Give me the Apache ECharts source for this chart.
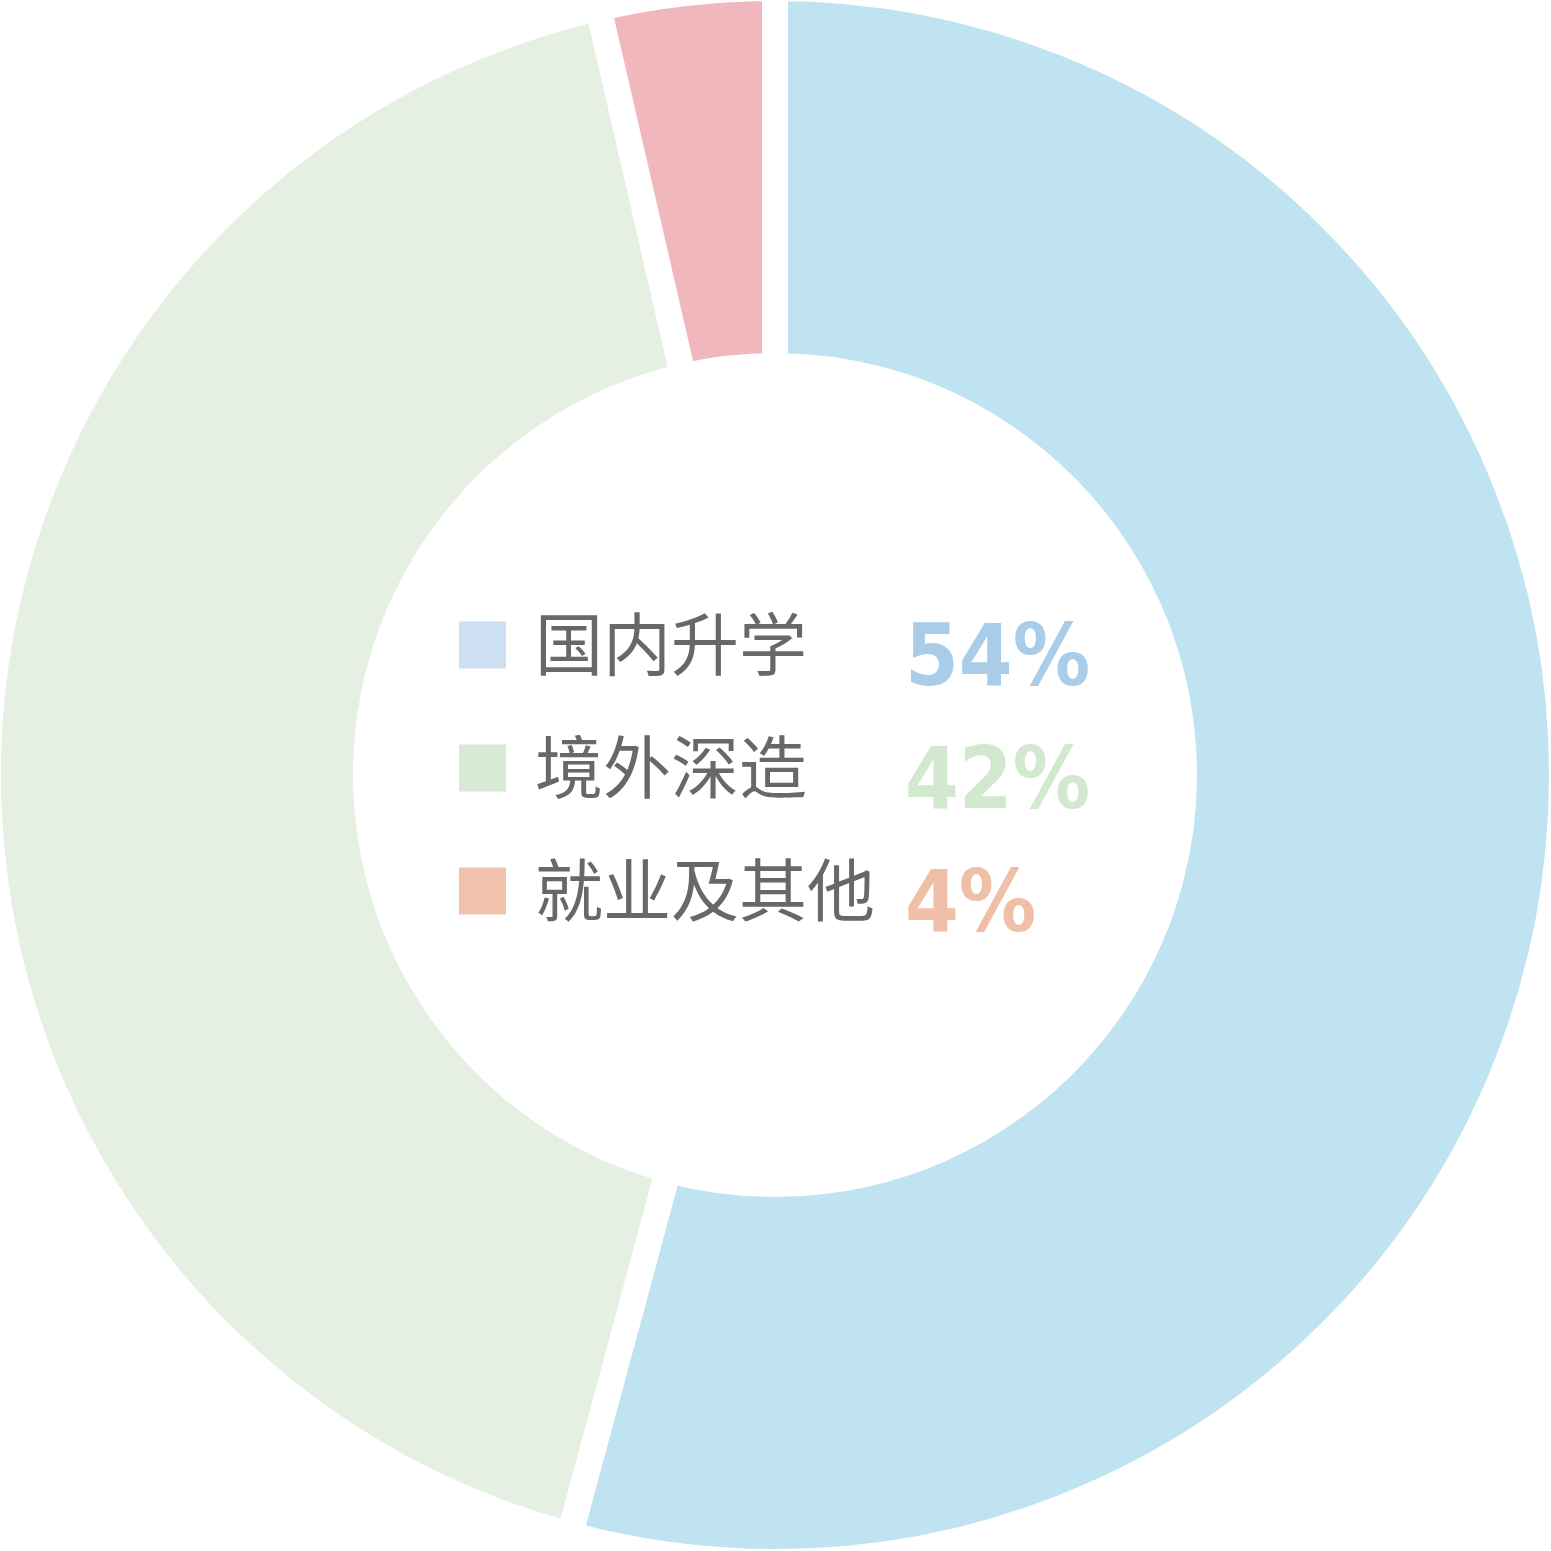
<!DOCTYPE html>
<html><head><meta charset="utf-8">
<style>html,body{margin:0;padding:0;background:#fff}#c{width:1551px;height:1551px}</style>
<script src="https://cdn.jsdelivr.net/npm/echarts@6/dist/echarts.min.js"></script>
</head><body><div id="c"></div>
<script>
const categories = ['国内升学', '境外深造', '就业及其他'];
const values = [54.2, 42.2, 3.6];
const sliceColors = ['#bfe3f1', '#e5f0e3', '#f0b8bc'];
const legendColors = ['#cce0f2', '#d8ead5', '#f0c2ac'];
const pctColors = ['#a9cde8', '#d3e9cf', '#efbfa8'];

const chart = echarts.init(document.getElementById('c'));
const rich = {
  n: { fontFamily: 'Noto Sans CJK SC', fontSize: 68, color: '#686868', width: 370, padding: [10, 0, 0, 24], lineHeight: 90, align: 'left', verticalAlign: 'top' }
};
pctColors.forEach((c, i) => {
  rich['p' + i] = { fontFamily: 'DejaVu Sans Condensed', fontWeight: 'bold', fontSize: 86, color: c, lineHeight: 90, padding: [20, 0, 0, 0], verticalAlign: 'top' };
});
chart.setOption({
  animation: false,
  backgroundColor: '#fff',
  legend: {
    orient: 'vertical',
    left: 454,
    top: 595,
    padding: 5,
    itemWidth: 47,
    itemHeight: 47,
    itemGap: 17,
    icon: 'rect',
    selectedMode: false,
    data: categories.map((n, i) => ({ name: n, itemStyle: { color: legendColors[i], borderWidth: 0 } })),
    formatter: function (name) {
      const i = categories.indexOf(name);
      return '{n|' + name + '}{p' + i + '|' + Math.round(values[i]) + '%}';
    },
    textStyle: { rich: rich }
  },
  series: [{
    type: 'pie',
    center: [775, 775],
    radius: [409, 787],
    startAngle: 90,
    clockwise: true,
    label: { show: false },
    labelLine: { show: false },
    silent: true,
    itemStyle: { borderColor: '#fff', borderWidth: 26 },
    data: categories.map((n, i) => ({ name: n, value: values[i], itemStyle: { color: sliceColors[i] } }))
  }]
});
</script></body></html>
